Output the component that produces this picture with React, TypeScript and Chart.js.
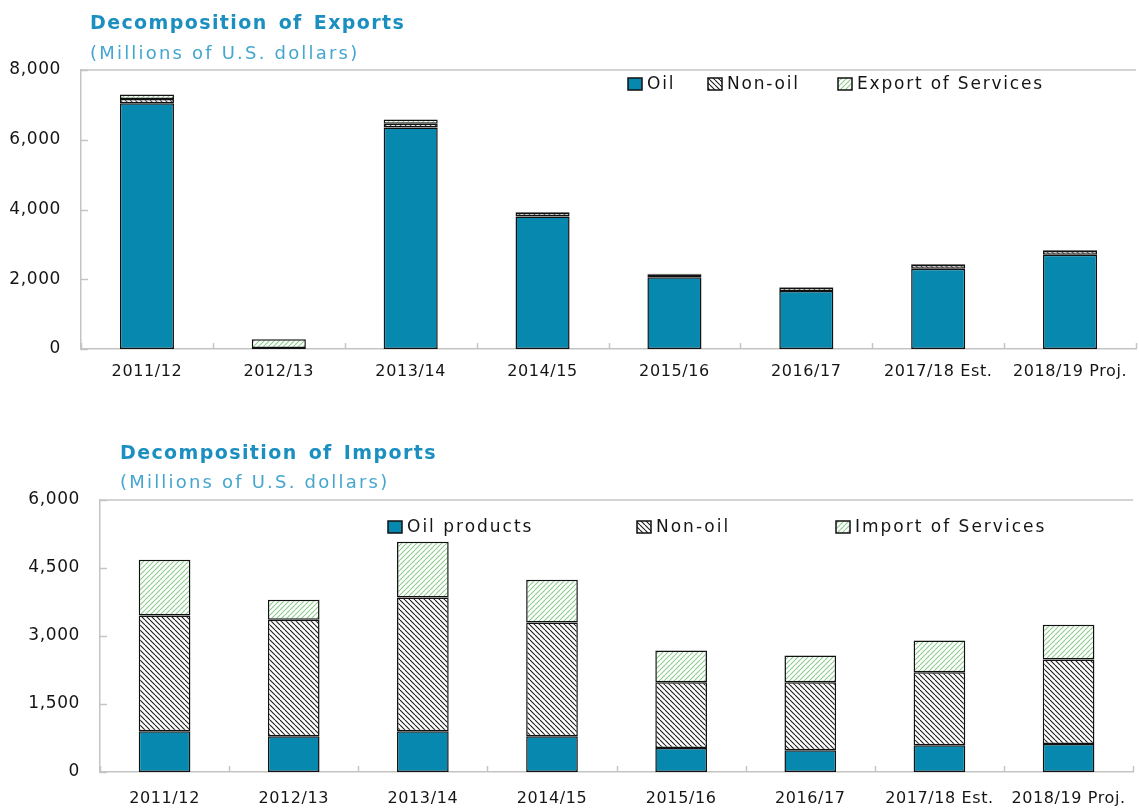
import React, { useEffect, useRef } from "react";
import { Chart, registerables } from "chart.js";

Chart.register(...registerables);

// ---------- data ----------
const categories = ["2011/12", "2012/13", "2013/14", "2014/15", "2015/16", "2016/17", "2017/18 Est.", "2018/19 Proj."];

const exportOil = [7050, 0, 6350, 3800, 2060, 1660, 2300, 2700];
const exportNonOil = [120, 30, 110, 100, 80, 100, 110, 110];
const exportServices = [130, 250, 120, 20, 20, 20, 20, 20];

const importOil = [900, 790, 900, 790, 530, 480, 590, 620];
const importNonOil = [2550, 2570, 2950, 2510, 1450, 1500, 1610, 1860];
const importServices = [1230, 440, 1230, 940, 700, 590, 700, 770];

const exportTicks = [0, 2000, 4000, 6000, 8000];
const importTicks = [0, 1500, 3000, 4500, 6000];

const exportLegend = ["Oil", "Non-oil", "Export of Services"];
const importLegend = ["Oil products", "Non-oil", "Import of Services"];

const exportTitle = "Decomposition of Exports";
const importTitle = "Decomposition of Imports";
const unitsLabel = "(Millions of U.S. dollars)";

// ---------- styles ----------
const TEAL = "#0788AE";
const FONT = "'DejaVu Sans', 'Open Sans', sans-serif";
const AXIS = "#c4c4c4";
const TEXT = "#151515";

function hatch(color: string, dir: number, size: number, lw: number) {
  const c = document.createElement("canvas");
  c.width = size;
  c.height = size;
  const g = c.getContext("2d")!;
  g.fillStyle = "#ffffff";
  g.fillRect(0, 0, size, size);
  g.strokeStyle = color;
  g.lineWidth = lw;
  for (let k = -1; k <= 1; k++) {
    g.beginPath();
    if (dir > 0) {
      g.moveTo(k * size, 0);
      g.lineTo(k * size + size, size);
    } else {
      g.moveTo(k * size, size);
      g.lineTo(k * size + size, 0);
    }
    g.stroke();
  }
  return g.createPattern(c, "repeat")!;
}

const spacing = {
  id: "spacing",
  beforeDraw(chart: any) {
    (chart.ctx as any).letterSpacing = "0.6px";
  },
};

const frameTicks = {
  id: "frameTicks",
  afterDraw(chart: any) {
    const { ctx, chartArea } = chart;
    const xs = chart.scales.x;
    const ys = chart.scales.y;
    ctx.save();
    ctx.strokeStyle = AXIS;
    ctx.lineWidth = 1.5;
    ctx.beginPath();
    ctx.moveTo(chartArea.left, chartArea.top);
    ctx.lineTo(chartArea.right, chartArea.top);
    ctx.stroke();
    const n = chart.data.labels.length;
    const step = n > 1 ? xs.getPixelForValue(1) - xs.getPixelForValue(0) : xs.width;
    for (let i = 0; i <= n; i++) {
      const x = Math.round(xs.getPixelForValue(0) - step / 2 + i * step) + 0.5;
      ctx.beginPath();
      ctx.moveTo(x, chartArea.bottom);
      ctx.lineTo(x, chartArea.bottom - 6);
      ctx.stroke();
    }
    ys.ticks.forEach((t: any) => {
      const y = Math.round(ys.getPixelForValue(t.value)) + 0.5;
      ctx.beginPath();
      ctx.moveTo(chartArea.left, y);
      ctx.lineTo(chartArea.left + 7, y);
      ctx.stroke();
    });
    ctx.restore();
  },
};

const boxLegend = {
  id: "boxLegend",
  afterDraw(chart: any, _args: any, opts: any) {
    const { ctx } = chart;
    ctx.save();
    ctx.font = `17px ${FONT}`;
    (ctx as any).letterSpacing = opts.spacing;
    ctx.textBaseline = "middle";
    chart.data.datasets.forEach((ds: any, i: number) => {
      const x = opts.xs[i];
      const y = opts.y;
      ctx.fillStyle = ds.backgroundColor;
      ctx.fillRect(x, y - 6, 14, 12);
      ctx.strokeStyle = "#111";
      ctx.lineWidth = 1.5;
      ctx.strokeRect(x, y - 6, 14, 12);
      ctx.fillStyle = TEXT;
      ctx.fillText(ds.label, x + 19, y + 1);
    });
    ctx.restore();
  },
};

function makeConfig(
  labels: string[],
  names: string[],
  series: number[][],
  ticks: number[],
  plot: { top: number; bottom: number; left: number; right: number; width: number; height: number; pad: number },
  legend: { xs: number[]; y: number; spacing: string },
  barPct: number
): any {
  const fills = [TEAL, hatch("#1a1a1a", 1, 5, 1.1), hatch("#8cc98c", -1, 5, 1.1)];
  return {
    type: "bar",
    data: {
      labels,
      datasets: series.map((d, i) => ({
        label: names[i],
        data: d,
        backgroundColor: fills[i],
        borderColor: "#111111",
        borderWidth: 1.5,
        borderSkipped: false,
        barPercentage: barPct,
        categoryPercentage: 1,
      })),
    },
    options: {
      responsive: false,
      animation: false,
      devicePixelRatio: 1,
      layout: { padding: { top: plot.top, right: plot.width - plot.right, left: 0, bottom: 0 } },
      plugins: {
        legend: { display: false },
        tooltip: { enabled: false },
        boxLegend: legend,
      },
      scales: {
        x: {
          stacked: true,
          grid: { display: false, drawTicks: false },
          border: { display: true, color: AXIS, width: 1.5 },
          ticks: { color: TEXT, font: { family: FONT, size: 16 }, padding: plot.pad, maxRotation: 0, autoSkip: false },
          afterFit: (s: any) => {
            s.height = plot.height - plot.bottom;
          },
        },
        y: {
          stacked: true,
          min: ticks[0],
          max: ticks[ticks.length - 1],
          afterBuildTicks: (s: any) => {
            s.ticks = ticks.map((v) => ({ value: v }));
          },
          grid: { display: false, drawTicks: false },
          border: { display: true, color: AXIS, width: 1.5 },
          ticks: { color: TEXT, font: { family: FONT, size: 17 }, padding: 20 },
          afterFit: (s: any) => {
            s.width = plot.left;
          },
        },
      },
    },
    plugins: [spacing, frameTicks, boxLegend],
  };
}

const titleStyle = (left: number, top: number): React.CSSProperties => ({
  position: "absolute",
  left,
  top,
  fontFamily: FONT,
  fontWeight: 700,
  fontSize: 19,
  letterSpacing: "1.4px",
  wordSpacing: 3,
  color: "#1a8fc0",
  whiteSpace: "nowrap",
  lineHeight: "24px",
});
const subStyle = (left: number, top: number): React.CSSProperties => ({
  position: "absolute",
  left,
  top,
  fontFamily: FONT,
  fontSize: 18,
  letterSpacing: "2.2px",
  color: "#45a6cf",
  whiteSpace: "nowrap",
  lineHeight: "24px",
});

export default function App() {
  const topRef = useRef<HTMLCanvasElement>(null);
  const botRef = useRef<HTMLCanvasElement>(null);

  useEffect(() => {
    document.body.style.margin = "0";
    const c1 = new Chart(
      topRef.current!,
      makeConfig(
        categories,
        exportLegend,
        [exportOil, exportNonOil, exportServices],
        exportTicks,
        { top: 70, bottom: 349, left: 81, right: 1136, width: 1139, height: 400, pad: 13 },
        { xs: [628, 708, 838], y: 84, spacing: "1.8px" },
        0.41
      )
    );
    const c2 = new Chart(
      botRef.current!,
      makeConfig(
        categories,
        importLegend,
        [importOil, importNonOil, importServices],
        importTicks,
        { top: 100, bottom: 372, left: 100, right: 1136, width: 1139, height: 408, pad: 17 },
        { xs: [388, 637, 836], y: 127, spacing: "2px" },
        0.4
      )
    );
    return () => {
      c1.destroy();
      c2.destroy();
    };
  }, []);

  return (
    <div style={{ position: "relative", width: 1139, height: 808, background: "#fff", overflow: "hidden" }}>
      <canvas ref={topRef} width={1139} height={400} style={{ position: "absolute", left: 0, top: 0 }} />
      <canvas ref={botRef} width={1139} height={408} style={{ position: "absolute", left: 0, top: 400 }} />
      <div style={titleStyle(90, 10)}>{exportTitle}</div>
      <div style={subStyle(90, 41)}>{unitsLabel}</div>
      <div style={titleStyle(120, 440)}>{importTitle}</div>
      <div style={subStyle(120, 470)}>{unitsLabel}</div>
    </div>
  );
}
